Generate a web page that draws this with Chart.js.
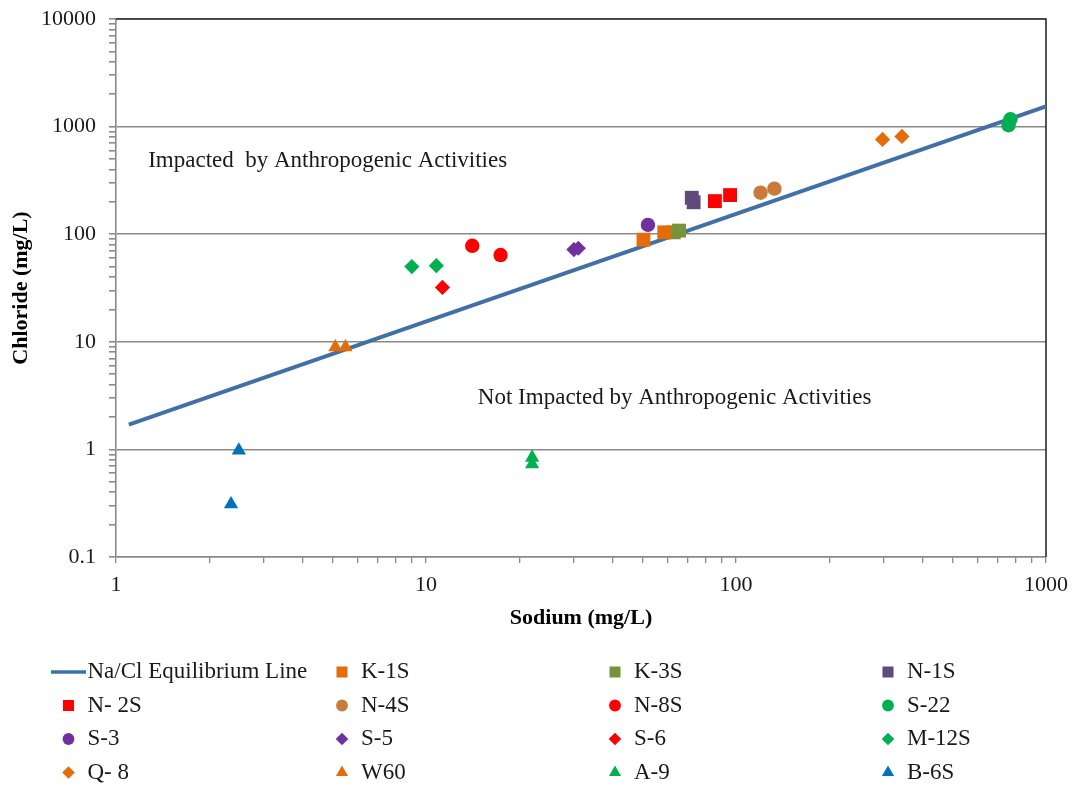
<!DOCTYPE html>
<html>
<head>
<meta charset="utf-8">
<script src="https://cdn.jsdelivr.net/npm/chart.js@4/dist/chart.umd.min.js"></script>
<style>
  html, body { margin: 0; padding: 0; background: #fff; }
  #wrap { width: 1076px; height: 789px; position: relative; }
</style>
</head>
<body>
<div id="wrap"><canvas id="c" width="1076" height="789"></canvas></div>
<script>
// ---- data ----
const xTickLabels = ['1', '10', '100', '1000'];
const yTickLabels = ['0.1', '1', '10', '100', '1000', '10000'];

const lineNa = [1.1, 1000];
const lineCl = [1.7, 1545];

const k1sNa = [50.3, 58.7];   const k1sCl = [89, 104];
const k3sNa = [63, 65.5];     const k3sCl = [104, 108];
const n1sNa = [72, 73];       const n1sCl = [218, 198];
const n2sNa = [85.5, 95.7];   const n2sCl = [203, 231];
const n4sNa = [120, 133];     const n4sCl = [243, 265];
const n8sNa = [14.1, 17.4];   const n8sCl = [78, 64];
const s22Na = [757, 768];     const s22Cl = [1030, 1170];
const s3Na  = [52];           const s3Cl  = [122];
const s5Na  = [30, 31];       const s5Cl  = [72, 74];
const s6Na  = [11.3];         const s6Cl  = [32];
const m12sNa = [9, 10.8];     const m12sCl = [50, 51];
const q8Na  = [297, 343];     const q8Cl  = [760, 811];
const w60Na = [5.1, 5.5];     const w60Cl = [8.9, 8.9];
const a9Na  = [22, 22];       const a9Cl  = [0.84, 0.73];
const b6sNa = [2.49, 2.35];   const b6sCl = [0.98, 0.31];

const seriesNames = ['Na/Cl Equilibrium Line', 'K-1S', 'K-3S', 'N-1S', 'N- 2S', 'N-4S', 'N-8S', 'S-22',
                     'S-3', 'S-5', 'S-6', 'M-12S', 'Q- 8', 'W60', 'A-9', 'B-6S'];

// ---- styling ----
const FONT = '"Liberation Serif", "Times New Roman", serif';
const styles = [
  { color: '#4170A6', style: 'line' },
  { color: '#E46C0A', style: 'rect' },
  { color: '#77933C', style: 'rect' },
  { color: '#604A7B', style: 'rect' },
  { color: '#FF0000', style: 'rect' },
  { color: '#C97C3A', style: 'circle' },
  { color: '#FF0000', style: 'circle' },
  { color: '#00B050', style: 'circle' },
  { color: '#7030A0', style: 'circle' },
  { color: '#7030A0', style: 'rectRot' },
  { color: '#FF0000', style: 'rectRot' },
  { color: '#00B050', style: 'rectRot' },
  { color: '#E46C0A', style: 'rectRot' },
  { color: '#E46C0A', style: 'triangle' },
  { color: '#00B050', style: 'triangle' },
  { color: '#0070C0', style: 'triangle' }
];
const radiusFor = { rect: 9.8, circle: 7.2, rectRot: 7.6, triangle: 8.2 };
const legendRadius = { rect: 7.8, circle: 5.9, rectRot: 6.3, triangle: 7 };

const seriesData = [
  [lineNa, lineCl], [k1sNa, k1sCl], [k3sNa, k3sCl], [n1sNa, n1sCl], [n2sNa, n2sCl],
  [n4sNa, n4sCl], [n8sNa, n8sCl], [s22Na, s22Cl], [s3Na, s3Cl], [s5Na, s5Cl],
  [s6Na, s6Cl], [m12sNa, m12sCl], [q8Na, q8Cl], [w60Na, w60Cl], [a9Na, a9Cl], [b6sNa, b6sCl]
];

const toPoints = (xs, ys) => xs.map((x, i) => ({ x: x, y: ys[i] }));

const datasets = seriesNames.map((name, i) => {
  const s = styles[i];
  const pts = toPoints(seriesData[i][0], seriesData[i][1]);
  if (s.style === 'line') {
    return {
      label: name, data: pts, showLine: true, borderColor: s.color, borderWidth: 4,
      pointRadius: 0, pointHoverRadius: 0, order: 100, _legendStyle: 'line'
    };
  }
  return {
    label: name, data: pts, showLine: false, pointStyle: s.style,
    pointRadius: radiusFor[s.style], pointHoverRadius: radiusFor[s.style],
    backgroundColor: s.color, borderColor: s.color, pointBorderWidth: 0, order: 0,
    _legendStyle: s.style
  };
});

const isPow10 = v => { const l = Math.log10(v); return Math.abs(l - Math.round(l)) < 1e-6; };

function logTicks(scale) {
  const ticks = [];
  const e0 = Math.round(Math.log10(scale.min));
  const e1 = Math.round(Math.log10(scale.max));
  for (let e = e0; e < e1; e++) {
    for (let m = 1; m <= 9; m++) {
      const v = parseFloat((m * Math.pow(10, e)).toPrecision(6));
      ticks.push({ value: v, major: m === 1 });
    }
  }
  ticks.push({ value: parseFloat(Math.pow(10, e1).toPrecision(6)), major: true });
  scale.ticks = ticks;
}

const labelFor = (list) => (v) => {
  if (!isPow10(v)) return '';
  const s = String(parseFloat(v.toPrecision(6)));
  return list.includes(s) ? s : '';
};

const GRID = '#8a8a8a';

const extras = {
  id: 'extras',
  beforeDatasetsDraw(chart) {
    const { ctx, chartArea: a } = chart;
    ctx.save();
    ctx.strokeStyle = '#2b2b2b';
    ctx.lineWidth = 1.6;
    ctx.beginPath();
    ctx.moveTo(a.left, a.top);
    ctx.lineTo(a.right, a.top);
    ctx.lineTo(a.right, a.bottom);
    ctx.stroke();
    ctx.restore();
  },
  afterDraw(chart) {
    const { ctx, scales } = chart;
    const xs = scales.x, ys = scales.y;
    ctx.save();
    // region annotations
    ctx.fillStyle = '#1a1a1a';
    ctx.font = '23px ' + FONT;
    ctx.textBaseline = 'middle';
    ctx.textAlign = 'left';
    ctx.fillText('Impacted  by Anthropogenic Activities', xs.getPixelForValue(1.27), ys.getPixelForValue(475));
    ctx.fillText('Not Impacted by Anthropogenic Activities', xs.getPixelForValue(14.7), ys.getPixelForValue(2.98));

    // legend (4 columns)
    const colX = [68.5, 342, 615, 888];
    const rowY = [672, 705.5, 739, 772.5];
    ctx.font = '23px ' + FONT;
    chart.data.datasets.forEach((ds, i) => {
      const col = i % 4, row = Math.floor(i / 4);
      const cx = colX[col], cy = rowY[row];
      const st = ds._legendStyle;
      if (st === 'line') {
        ctx.strokeStyle = ds.borderColor;
        ctx.lineWidth = 3.5;
        ctx.beginPath();
        ctx.moveTo(cx - 17.5, cy);
        ctx.lineTo(cx + 17.5, cy);
        ctx.stroke();
      } else {
        ctx.fillStyle = ds.backgroundColor;
        Chart.helpers.drawPoint(ctx, { pointStyle: st, radius: legendRadius[st], rotation: 0, borderWidth: 0 }, cx, cy);
      }
      ctx.fillStyle = '#1a1a1a';
      ctx.fillText(ds.label, cx + 19, cy);
    });
    ctx.restore();
  }
};

new Chart(document.getElementById('c'), {
  type: 'scatter',
  data: { datasets },
  plugins: [extras],
  options: {
    responsive: false,
    animation: false,
    events: [],
    layout: { padding: { left: 0, right: 30, top: 19, bottom: 152 } },
    plugins: { legend: { display: false }, tooltip: { enabled: false } },
    scales: {
      x: {
        type: 'logarithmic', min: 1, max: 1000,
        afterBuildTicks: logTicks,
        afterFit: (s) => { s.height = 80; s.paddingLeft = 0; s.paddingRight = 0; },
        ticks: {
          autoSkip: false, maxRotation: 0, padding: 9,
          color: '#1a1a1a', font: { family: FONT, size: 22 },
          callback: labelFor(xTickLabels)
        },
        grid: { drawOnChartArea: false, tickColor: GRID, tickLength: 6, lineWidth: 1.3 },
        border: { color: GRID, width: 1.6 },
        title: {
          display: true, text: 'Sodium (mg/L)', color: '#000',
          font: { family: FONT, size: 22, weight: 'bold' }, padding: { top: 0, bottom: 5 }
        }
      },
      y: {
        type: 'logarithmic', min: 0.1, max: 10000,
        afterBuildTicks: logTicks,
        afterFit: (s) => { s.width = 116; s.paddingTop = 0; s.paddingBottom = 0; },
        ticks: {
          autoSkip: false, padding: 13,
          color: '#1a1a1a', font: { family: FONT, size: 22 },
          callback: labelFor(yTickLabels)
        },
        grid: {
          color: (c) => (c.tick && isPow10(c.tick.value)) ? GRID : 'rgba(0,0,0,0)',
          tickColor: GRID, tickLength: 7, lineWidth: 1.6
        },
        border: { color: GRID, width: 1.6 },
        title: {
          display: true, text: 'Chloride (mg/L)', color: '#000',
          font: { family: FONT, size: 22, weight: 'bold' }, padding: { top: 8, bottom: 0 }
        }
      }
    }
  }
});
</script>
</body>
</html>
